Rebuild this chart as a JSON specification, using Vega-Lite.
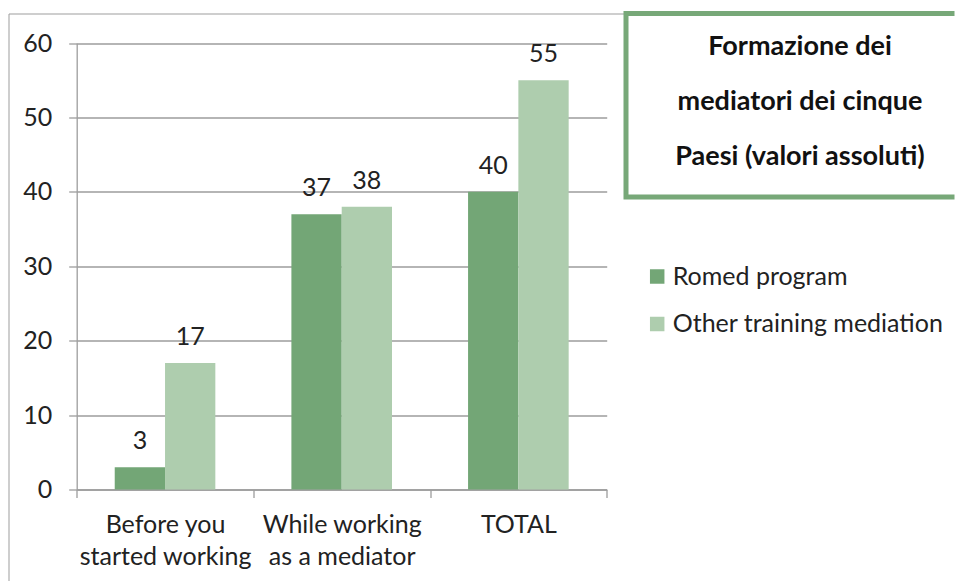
{
  "$schema": "https://vega.github.io/schema/vega-lite/v6.json",
  "padding": {"left": 7.5, "top": 9.5, "right": 0, "bottom": 0},
  "background": "white",
  "config": {
    "font": "Lato",
    "view": {"stroke": null}
  },
  "datasets": {
    "bars": [
      {"cat": "Before you started working", "series": "Romed program", "value": 3},
      {"cat": "Before you started working", "series": "Other training mediation", "value": 17},
      {"cat": "While working as a mediator", "series": "Romed program", "value": 37},
      {"cat": "While working as a mediator", "series": "Other training mediation", "value": 38},
      {"cat": "TOTAL", "series": "Romed program", "value": 40},
      {"cat": "TOTAL", "series": "Other training mediation", "value": 55}
    ],
    "titleRow": [{"title": "Formazione dei\nmediatori dei cinque\nPaesi (valori assoluti)"}]
  },
  "bounds": "flush",
  "spacing": 0.5,
  "hconcat": [
    {
      "width": 617,
      "height": 567.5,
      "data": {"name": "bars"},
      "view": {"stroke": "#9d9d9d", "strokeWidth": 1, "strokeDash": [617, 1184.5, 567.5, 0]},
      "layer": [
        {
          "mark": {"type": "bar"},
          "encoding": {
            "x": {
              "field": "cat", "type": "nominal", "sort": null,
              "scale": {"paddingInner": 0, "paddingOuter": 0, "range": [68.2, 598.2]},
              "axis": {
                "title": null,
                "offset": -91.5,
                "tickBand": "extent",
                "tickSize": 8,
                "tickColor": "#9d9d9d",
                "tickWidth": 1.3,
                "domainColor": "#9d9d9d",
                "domainWidth": 1.3,
                "labelAngle": 0,
                "labelFont": "Lato",
                "labelFontSize": 25,
                "labelColor": "#222222",
                "labelPadding": 15,
                "labelLineHeight": 32,
                "labelExpr": "datum.value == 'Before you started working' ? ['Before you', 'started working'] : datum.value == 'While working as a mediator' ? ['While working', 'as a mediator'] : datum.value"
              }
            },
            "xOffset": {
              "field": "series", "type": "nominal",
              "sort": ["Romed program", "Other training mediation"],
              "scale": {"paddingInner": 0, "paddingOuter": 0.756}
            },
            "y": {
              "field": "value", "type": "quantitative",
              "scale": {"domain": [0, 60], "range": [476, 29.5], "nice": false},
              "axis": {
                "title": null,
                "offset": -68.2,
                "values": [0, 10, 20, 30, 40, 50, 60],
                "grid": true,
                "gridColor": "#9d9d9d",
                "gridWidth": 1.3,
                "tickSize": 8,
                "tickColor": "#9d9d9d",
                "tickWidth": 1.3,
                "domainColor": "#9d9d9d",
                "domainWidth": 1.3,
                "labelFont": "Lato",
                "labelFontSize": 25,
                "labelColor": "#222222",
                "labelPadding": 17
              }
            },
            "color": {
              "field": "series", "type": "nominal",
              "scale": {"domain": ["Romed program", "Other training mediation"], "range": ["#73a676", "#aecdae"]},
              "legend": {
                "title": null,
                "orient": "none",
                "direction": "vertical",
                "legendX": 636.2,
                "legendY": 250.5,
                "symbolType": "square",
                "symbolSize": 210,
                "symbolStrokeWidth": 0,
                "labelFont": "Lato",
                "labelFontSize": 25,
                "labelColor": "#222222",
                "labelOffset": 3,
                "rowPadding": 21.5,
                "labelLimit": 400
              }
            }
          }
        },
        {
          "mark": {"type": "text", "baseline": "alphabetic", "dy": -18, "fontSize": 25, "color": "#222222", "font": "Lato"},
          "encoding": {
            "x": {"field": "cat", "type": "nominal", "sort": null},
            "xOffset": {"field": "series", "type": "nominal", "sort": ["Romed program", "Other training mediation"]},
            "y": {"field": "value", "type": "quantitative"},
            "text": {"field": "value", "type": "quantitative"}
          }
        }
      ]
    },
    {
      "width": 326,
      "height": 183.5,
      "data": {"name": "titleRow"},
      "mark": {"type": "text", "font": "Lato", "fontSize": 27, "fontWeight": "bold", "color": "#111111", "lineBreak": "\n", "lineHeight": 55, "align": "center", "baseline": "middle", "dx": 11, "dy": -58},
      "encoding": {"text": {"field": "title"}},
      "view": {"stroke": "#77a878", "strokeWidth": 5, "strokeCap": "square", "strokeDash": [326, 183.5, 509.5, 0]}
    }
  ]
}
